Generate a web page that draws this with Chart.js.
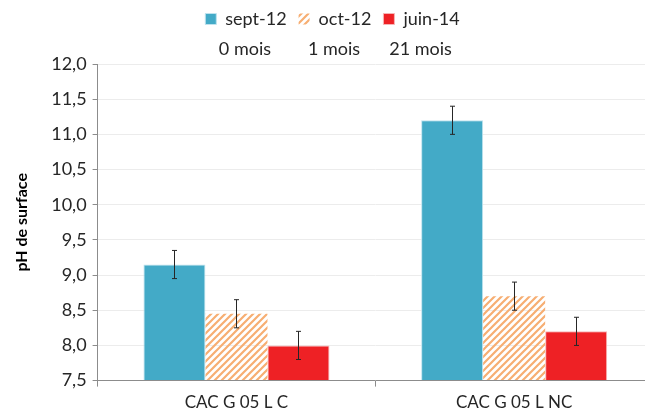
<!DOCTYPE html>
<html>
<head>
<meta charset="utf-8">
<script src="https://cdn.jsdelivr.net/npm/chart.js@4.4.0/dist/chart.umd.min.js"></script>
<style>
  html, body { margin: 0; padding: 0; background: #fff; overflow: hidden; }
  #wrap { position: relative; width: 676px; height: 419px; }
</style>
</head>
<body>
<div id="wrap"><canvas id="phChart"></canvas></div>
<script>
// data
const categories = ['CAC G 05 L C', 'CAC G 05 L NC'];
const seriesNames = ['sept-12', 'oct-12', 'juin-14'];
const seriesAges = ['0 mois', '1 mois', '21 mois'];
const sept12 = [9.15, 11.2];
const oct12 = [8.45, 8.7];
const juin14 = [8.0, 8.2];
const sept12Err = [0.2, 0.2];
const oct12Err = [0.2, 0.2];
const juin14Err = [0.2, 0.2];

const FONT = 'Lato, "Open Sans", sans-serif';

// hatched fill for oct-12
function hatch() {
    const c = document.createElement('canvas');
    c.width = 7; c.height = 7;
    const g = c.getContext('2d');
    g.strokeStyle = '#f7ae72';
    g.lineWidth = 2.2;
    g.beginPath();
    g.moveTo(-1, 8); g.lineTo(8, -1);
    g.moveTo(-1, 1); g.lineTo(1, -1);
    g.moveTo(6, 8); g.lineTo(8, 6);
    g.stroke();
    return g.createPattern(c, 'repeat');
}

// make room under the legend for the "mois" line
const legendSpace = {
    id: 'legendSpace',
    beforeInit(chart) {
        const orig = chart.legend.fit;
        chart.legend.fit = function () {
            orig.call(this);
            this.height += 26;
        };
    },
    afterDraw(chart) {
        const boxes = chart.legend.legendHitBoxes;
        const ctx = chart.ctx;
        ctx.save();
        ctx.font = '18px ' + FONT;
        ctx.fillStyle = '#262626';
        ctx.textAlign = 'center';
        ctx.textBaseline = 'middle';
        boxes.forEach((b, i) => {
            ctx.fillText(seriesAges[i], b.left + b.width / 2 - 1, b.top + b.height / 2 + 30);
        });
        ctx.restore();
    }
};

// error bars
const errorBars = {
    id: 'errorBars',
    afterDatasetsDraw(chart) {
        const ctx = chart.ctx;
        const y = chart.scales.y;
        ctx.save();
        ctx.strokeStyle = '#262626';
        ctx.lineWidth = 1;
        chart.data.datasets.forEach((ds, di) => {
            const meta = chart.getDatasetMeta(di);
            meta.data.forEach((bar, i) => {
                const v = ds.data[i], e = ds.errors[i];
                const x = Math.round(bar.x) + 0.5;
                const top = y.getPixelForValue(v + e);
                const bot = y.getPixelForValue(v - e);
                ctx.beginPath();
                ctx.moveTo(x, top); ctx.lineTo(x, bot);
                ctx.moveTo(x - 2.5, top); ctx.lineTo(x + 2.5, top);
                ctx.moveTo(x - 2.5, bot); ctx.lineTo(x + 2.5, bot);
                ctx.stroke();
            });
        });
        ctx.restore();
    }
};

const ctx = document.getElementById('phChart').getContext('2d');
const phChart = new Chart(ctx, {
    type: 'bar',
    data: {
        labels: categories,
        datasets: [{
            label: seriesNames[0],
            data: sept12,
            errors: sept12Err,
            backgroundColor: '#43aac7',
            borderColor: '#bfe3ee',
            borderWidth: 1
        }, {
            label: seriesNames[1],
            data: oct12,
            errors: oct12Err,
            backgroundColor: hatch(),
            borderWidth: 0
        }, {
            label: seriesNames[2],
            data: juin14,
            errors: juin14Err,
            backgroundColor: '#ee2125',
            borderColor: '#f6b5b5',
            borderWidth: 1
        }]
    },
    options: {
        responsive: true,
        maintainAspectRatio: false,
        animation: false,
        layout: { padding: { top: -2, right: 23, left: 12, bottom: 0 } },
        datasets: {
            bar: { barPercentage: 1, categoryPercentage: 0.67, base: 7.5 }
        },
        plugins: {
            legend: {
                position: 'top',
                labels: {
                    boxWidth: 11,
                    boxHeight: 11,
                    padding: 12,
                    color: '#262626',
                    font: { family: FONT, size: 18 }
                }
            },
            tooltip: { enabled: false }
        },
        scales: {
            x: {
                offset: true,
                grid: {
                    offset: true,
                    drawOnChartArea: false,
                    drawTicks: true,
                    tickLength: 6,
                    tickColor: '#8c8c8c'
                },
                border: { color: '#8c8c8c' },
                ticks: {
                    color: '#262626',
                    padding: 6,
                    font: { family: FONT, size: 17 }
                }
            },
            y: {
                min: 7.5,
                max: 12,
                grid: {
                    color: '#ececec',
                    tickColor: '#8c8c8c',
                    tickLength: 5
                },
                border: { color: '#8c8c8c' },
                ticks: {
                    stepSize: 0.5,
                    color: '#262626',
                    padding: 6,
                    font: { family: FONT, size: 18 },
                    callback: v => v.toFixed(1).replace('.', ',')
                },
                title: {
                    display: true,
                    text: 'pH de surface',
                    color: '#000',
                    padding: { top: 0, bottom: 14 },
                    font: { family: FONT, size: 16, weight: 'bold' }
                }
            }
        }
    },
    plugins: [legendSpace, errorBars]
});
</script>
</body>
</html>
